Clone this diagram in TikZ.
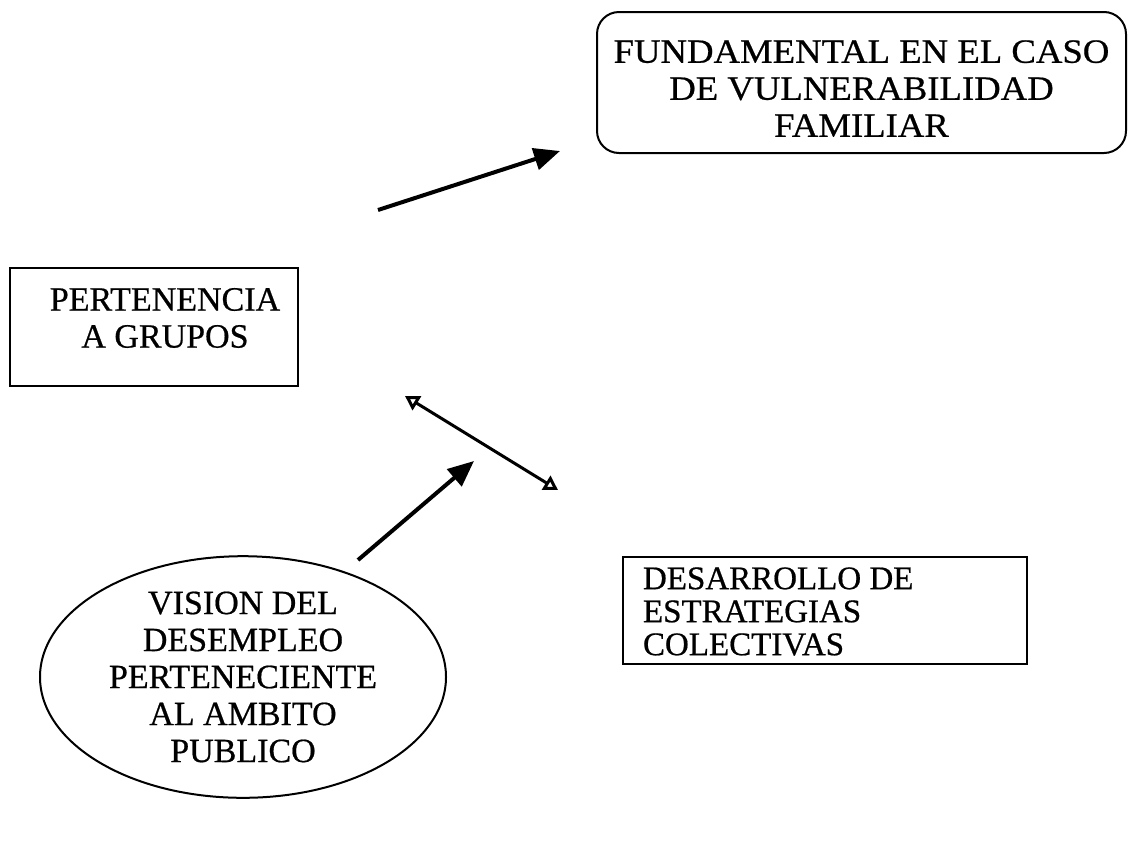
\documentclass[tikz,border=0pt]{standalone}
\usepackage{fontspec}
\setmainfont{Liberation Serif}[FakeBold=0.6]
\usetikzlibrary{shapes.geometric,arrows.meta}
\begin{document}
\begin{tikzpicture}[x=1pt,y=-1pt,
  every node/.style={font=\fontsize{34}{37}\selectfont, line width=2pt, inner sep=0pt},
  box/.style={draw, rectangle},
  txt/.style={align=center},
  conn/.style={line width=4pt, -{Triangle[length=26pt,width=22pt]}},
  dbl/.style={line width=3pt, {Triangle[open,length=14pt,width=16pt]}-{Triangle[open,length=14pt,width=16pt]}}]
\useasboundingbox (0,0) rectangle (1131,855);
\node[box, rounded corners=22pt, minimum width=529pt, minimum height=141pt] (fund) at (861.5,82.5) {};
\node[txt, font=\fontsize{34}{37}\selectfont\addfontfeature{FakeStretch=1.08}] (fundt) at ([yshift=-6pt]fund.center) {FUNDAMENTAL EN EL CASO\\DE VULNERABILIDAD\\FAMILIAR};
\node[box, minimum width=288pt, minimum height=118pt] (pert) at (154,327) {};
\node[txt] (pertt) at ([xshift=11pt,yshift=9pt]pert.center) {PERTENENCIA\\A GRUPOS};
\node[box, minimum width=404pt, minimum height=107pt] (desa) at (825,610.5) {};
\node[txt, align=left, anchor=west, font=\fontsize{33}{33}\selectfont] (desat) at ([xshift=20pt,yshift=-1pt]desa.west) {DESARROLLO DE\\ESTRATEGIAS\\COLECTIVAS};
\node[draw, ellipse, minimum width=406pt, minimum height=231pt, align=center] (vis) at (243,677)
  {VISION DEL\\DESEMPLEO\\PERTENECIENTE\\AL AMBITO\\PUBLICO};
\coordinate (a1s) at (378,210);
\coordinate (a1e) at (560,151);
\coordinate (a2s) at (405,396);
\coordinate (a2e) at (558,490);
\coordinate (a3s) at (358,560);
\coordinate (a3e) at (474,461);
\draw[conn] (a1s) -- (a1e);
\draw[dbl] (a2s) -- (a2e);
\draw[conn] (a3s) -- (a3e);
\end{tikzpicture}
\end{document}
